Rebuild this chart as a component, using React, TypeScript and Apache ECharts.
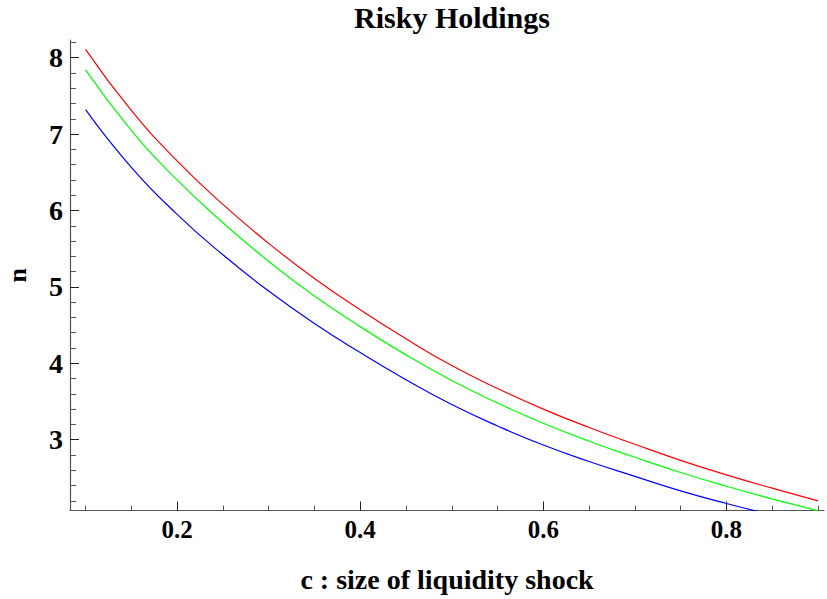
import React, { useEffect, useRef } from 'react';
import * as echarts from 'echarts';

const cValues = [0.1, 0.15, 0.2, 0.25, 0.3, 0.35, 0.4, 0.45, 0.5, 0.55, 0.6, 0.65, 0.7, 0.75, 0.8, 0.85, 0.9];
const redN = [8.11, 7.31, 6.65, 6.08, 5.57, 5.11, 4.7, 4.32, 3.97, 3.67, 3.4, 3.16, 2.94, 2.73, 2.54, 2.365, 2.2];
const greenN = [7.84, 7.05, 6.4, 5.84, 5.335, 4.88, 4.48, 4.11, 3.775, 3.48, 3.215, 2.98, 2.77, 2.57, 2.39, 2.225, 2.07];
const blueN = [7.32, 6.565, 5.95, 5.42, 4.945, 4.52, 4.14, 3.785, 3.46, 3.18, 2.93, 2.715, 2.52, 2.33, 2.165, 2.015];

const xMajorTicks = [0.2, 0.4, 0.6, 0.8];
const xMinorTicks = [0.1, 0.15, 0.25, 0.3, 0.35, 0.45, 0.5, 0.55, 0.65, 0.7, 0.75, 0.85, 0.9];
const yMajorTicks = [3, 4, 5, 6, 7, 8];
const yMinorTicks = [2.2, 2.4, 2.6, 2.8, 3.2, 3.4, 3.6, 3.8, 4.2, 4.4, 4.6, 4.8, 5.2, 5.4, 5.6, 5.8, 6.2, 6.4, 6.6, 6.8, 7.2, 7.4, 7.6, 7.8, 8.2];

const X_MIN = 0.083;
const X_MAX = 0.9066;
const Y_MIN = 2.073;
const Y_MAX = 8.232;

const FONT = '"Liberation Serif", "Times New Roman", serif';

const pairs = (ys: number[]) => ys.map((y, i) => [cValues[i], y]);

export default function App() {
  const ref = useRef<HTMLDivElement>(null);
  useEffect(() => {
    if (!ref.current) return;
    const chart = echarts.init(ref.current, undefined, { renderer: 'svg' });
    const labelStyle = { fontFamily: FONT, fontWeight: 'bold' as const, color: '#000' };
    chart.setOption({
      animation: false,
      backgroundColor: '#fff',
      title: {
        text: 'Risky Holdings',
        left: 452,
        textAlign: 'center',
        top: 2,
        padding: 0,
        textStyle: { ...labelStyle, fontSize: 30 },
      },
      grid: { left: 70, right: 3, top: 40, bottom: 88.5, containLabel: false, outerBoundsMode: 'none' },
      xAxis: [
        {
          type: 'value',
          min: X_MIN,
          max: X_MAX,
          position: 'bottom',
          axisLine: { show: true, onZero: false, lineStyle: { color: '#555', width: 1.2 } },
          axisTick: { show: true, inside: true, length: 9, customValues: xMajorTicks, lineStyle: { color: '#222' } },
          axisLabel: {
            customValues: xMajorTicks,
            formatter: (v: number) => v.toFixed(1),
            ...labelStyle,
            fontSize: 25,
            margin: 6,
          },
          splitLine: { show: false },
          name: 'c : size of liquidity shock',
          nameLocation: 'middle',
          nameGap: 55,
          nameTextStyle: { ...labelStyle, fontSize: 28 },
        },
        {
          type: 'value',
          min: X_MIN,
          max: X_MAX,
          position: 'bottom',
          axisLine: { show: false, onZero: false },
          axisTick: { show: true, inside: true, length: 5, customValues: xMinorTicks, lineStyle: { color: '#555' } },
          axisLabel: { show: false },
          splitLine: { show: false },
        },
      ],
      yAxis: [
        {
          type: 'value',
          min: Y_MIN,
          max: Y_MAX,
          position: 'left',
          axisLine: { show: true, onZero: false, lineStyle: { color: '#555', width: 1.2 } },
          axisTick: { show: true, inside: true, length: 9, customValues: yMajorTicks, lineStyle: { color: '#222' } },
          axisLabel: {
            customValues: yMajorTicks,
            formatter: (v: number) => String(v),
            ...labelStyle,
            fontSize: 28,
            margin: 7,
          },
          splitLine: { show: false },
          name: 'n',
          nameLocation: 'middle',
          nameRotate: 90,
          nameGap: 40,
          nameTextStyle: { ...labelStyle, fontSize: 26 },
        },
        {
          type: 'value',
          min: Y_MIN,
          max: Y_MAX,
          position: 'left',
          axisLine: { show: false, onZero: false },
          axisTick: { show: true, inside: true, length: 6, customValues: yMinorTicks, lineStyle: { color: '#555' } },
          axisLabel: { show: false },
          splitLine: { show: false },
        },
      ],
      series: [
        { name: 'red', type: 'line', data: pairs(redN), smooth: true, showSymbol: false, clip: true, lineStyle: { color: '#ff0000', width: 1.2 }, itemStyle: { color: '#ff0000' } },
        { name: 'green', type: 'line', data: pairs(greenN), smooth: true, showSymbol: false, clip: true, lineStyle: { color: '#00ff00', width: 1.2 }, itemStyle: { color: '#00ff00' } },
        { name: 'blue', type: 'line', data: pairs(blueN), smooth: true, showSymbol: false, clip: true, lineStyle: { color: '#0000ff', width: 1.2 }, itemStyle: { color: '#0000ff' } },
      ],
    });
    return () => chart.dispose();
  }, []);
  return <div ref={ref} style={{ position: 'fixed', left: 0, top: 0, width: 827, height: 599 }} />;
}
